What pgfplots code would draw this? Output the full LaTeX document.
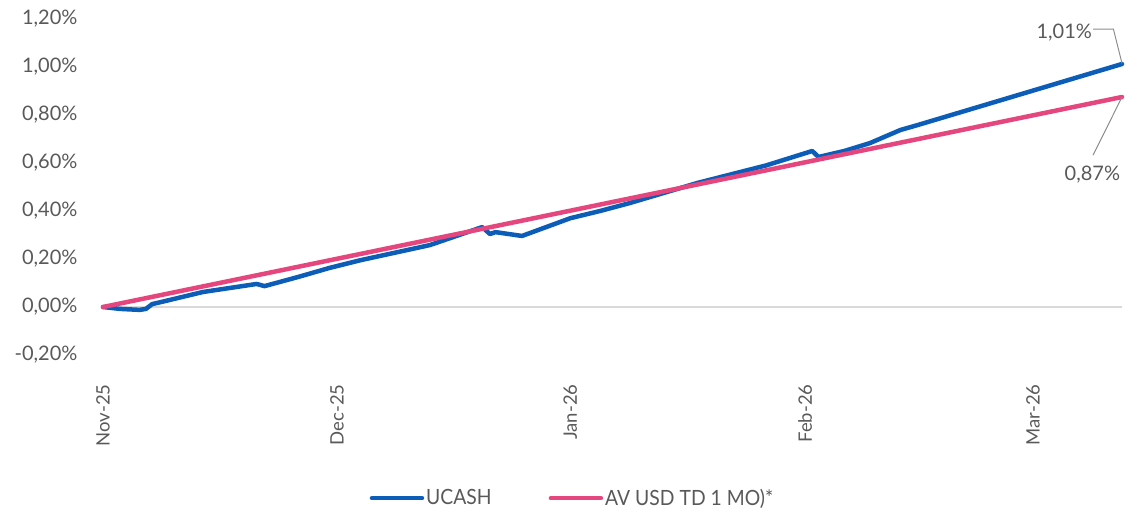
\documentclass[border=0pt]{standalone}
\usepackage{pgfplots}
\pgfplotsset{compat=1.18}
\usepackage{fontspec}
\setmainfont{Lato}
\definecolor{ublue}{HTML}{0B5DB8}
\definecolor{upink}{HTML}{E4467D}
\definecolor{tick}{HTML}{595959}
\begin{document}
\begin{tikzpicture}[x=1pt,y=1pt]
\useasboundingbox (0,0) rectangle (1127,508);
\begin{axis}[
  at={(103pt,153pt)}, anchor=south west,
  scale only axis, width=1019pt, height=336pt,
  xmin=0, xmax=130.6, ymin=-0.2, ymax=1.2,
  clip=false,
  axis line style={draw=none},
  major tick length=0pt,
  ticklabel style={text=tick},
  ytick={-0.2,0,0.2,0.4,0.6,0.8,1.0,1.2},
  yticklabels={{-0,20\%},{0,00\%},{0,20\%},{0,40\%},{0,60\%},{0,80\%},{1,00\%},{1,20\%}},
  yticklabel style={anchor=east, font=\fontsize{20}{22}\selectfont},
  yticklabel shift=22pt,
  xtick={0,30,59.87,90,119.2},
  xticklabels={Nov-25,Dec-25,Jan-26,Feb-26,Mar-26},
  xticklabel style={rotate=90, anchor=east, font=\fontsize{18.5}{20}\selectfont},
  xticklabel shift=26pt,
  legend columns=2,
  legend style={at={(0.4607,-0.426)}, anchor=center, draw=none, fill=none,
    font=\fontsize{21}{23}\selectfont, text=tick,
    /tikz/every even column/.append style={column sep=55pt},
    inner sep=0pt},
  legend cell align=left,
  legend image code/.code={\draw[#1, line cap=round] (0pt,0pt) -- (50pt,0pt);},
]
\draw[black!15, line width=1.5pt] (axis cs:0,0) -- (axis cs:130.6,0);
\addplot[ublue, line width=4.5pt, line join=round, line cap=round] coordinates {
(0,0) (2.2,-0.008) (4.7,-0.012) (5.5,-0.008) (6.3,0.012) (8.0,0.025)
(12.8,0.0625) (19.7,0.096) (20.7,0.087) (25,0.125) (29,0.1625) (33,0.195)
(41.9,0.258) (48.6,0.333) (49.6,0.304) (50.3,0.312) (53.7,0.296)
(59.9,0.37) (63.7,0.40) (67.5,0.433) (76.2,0.517) (85,0.59)
(90.9,0.65) (91.7,0.625) (95,0.65) (98.3,0.683) (102.2,0.7375)
(104.4,0.758) (130.6,1.0125)};
\addlegendentry{\scalebox{0.92}[1]{UCASH}}
\addplot[upink, line width=4.5pt, line join=round, line cap=round] coordinates {
(0,0) (30,0.201) (60,0.402) (90,0.603) (130.6,0.875)};
\addlegendentry{\scalebox{0.92}[1]{AV USD TD 1 MO)*}}
\draw[black!45, line width=1pt] (axis cs:126.9,1.158) -- (axis cs:129.5,1.158) -- (axis cs:130.6,1.015);
\node[text=tick, font=\fontsize{20}{22}\selectfont] at (axis cs:123.2,1.142) {1,01\%};
\draw[black!45, line width=1pt] (axis cs:130.6,0.875) -- (axis cs:126.9,0.633);
\node[text=tick, font=\fontsize{20}{22}\selectfont] at (axis cs:126.8,0.55) {0,87\%};
\end{axis}
\end{tikzpicture}
\end{document}
